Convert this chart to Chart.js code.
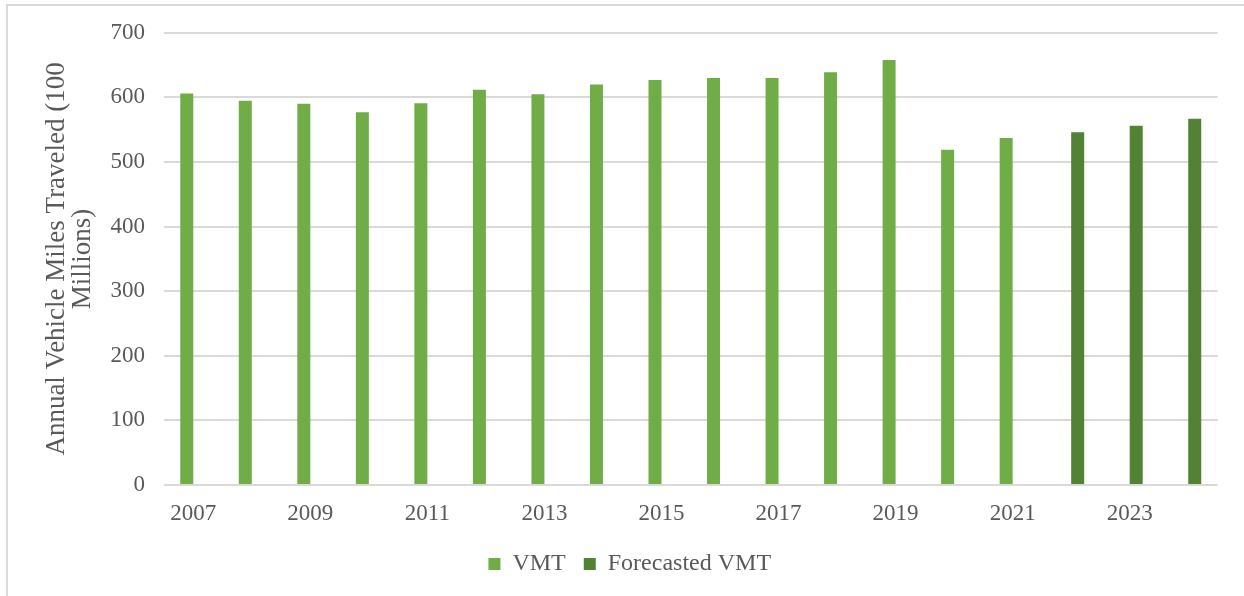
<!DOCTYPE html>
<html>
<head>
<meta charset="utf-8">
<script src="https://cdn.jsdelivr.net/npm/chart.js@4/dist/chart.umd.min.js"></script>
<style>
  html, body { margin: 0; padding: 0; background: #fff; }
  #wrap { position: relative; width: 1244px; height: 596px; overflow: hidden; }
  #frame { position: absolute; left: 6px; top: 4px; width: 1250px; height: 600px; border: 2px solid #d9d9d9; box-sizing: border-box; }
  canvas { position: absolute; left: 0; top: 0; }
</style>
</head>
<body>
<div id="wrap">
  <div id="frame"></div>
  <canvas id="vmt-chart" width="1244" height="596"></canvas>
</div>
<script>
// Years on the x axis
const years = ['2007', '2008', '2009', '2010', '2011', '2012', '2013', '2014', '2015',
    '2016', '2017', '2018', '2019', '2020', '2021', '2022', '2023', '2024'];

// Observed VMT (100 millions)
const vmt = [606, 595, 590, 577, 591, 612, 605, 620, 627,
    630, 630, 639, 658, 519, 537, null, null, null];

// Forecasted VMT (100 millions)
const forecastVmt = [null, null, null, null, null, null, null, null, null,
    null, null, null, null, null, null, 546, 556, 567];

// Y axis ticks
const yTicks = [0, 100, 200, 300, 400, 500, 600, 700];

const textColor = '#595959';
const serif = "'Liberation Serif', 'Times New Roman', serif";

// nudge the legend a bit to the right, like the original
const legendShift = {
    id: 'legendShift',
    afterLayout(chart) {
        if (chart.legend) {
            chart.legend.left += 21;
            chart.legend.right += 21;
        }
    }
};

new Chart(document.getElementById('vmt-chart'), {
    type: 'bar',
    data: {
        labels: years,
        datasets: [{
            label: 'VMT',
            data: vmt,
            backgroundColor: '#70ad47',
            categoryPercentage: 0.444,
            barPercentage: 1
        }, {
            label: 'Forecasted VMT',
            data: forecastVmt,
            backgroundColor: '#548235',
            categoryPercentage: 0.444,
            barPercentage: 1
        }]
    },
    options: {
        responsive: false,
        animation: false,
        layout: {
            padding: { top: 25, right: 26.5, left: 0, bottom: 10 }
        },
        scales: {
            x: {
                grid: { display: false, drawTicks: false },
                border: { display: false },
                ticks: {
                    color: textColor,
                    font: { family: serif, size: 23 },
                    maxRotation: 0,
                    autoSkip: false,
                    padding: 15,
                    callback: function(value, index) {
                        return index % 2 === 0 ? years[index] : '';
                    }
                },
                afterFit: function(scale) { scale.height = 49; }
            },
            y: {
                min: 0,
                max: 700,
                afterBuildTicks: function(scale) {
                    scale.ticks = yTicks.map(v => ({ value: v }));
                },
                grid: { color: '#d9d9d9', lineWidth: 2, drawTicks: false },
                border: { display: false },
                ticks: {
                    color: textColor,
                    font: { family: serif, size: 23 },
                    padding: 19
                },
                title: {
                    display: true,
                    text: ['Annual Vehicle Miles Traveled (100', 'Millions)'],
                    color: textColor,
                    font: { family: serif, size: 27, lineHeight: 0.97 },
                    padding: { top: 44, bottom: 0 }
                },
                afterFit: function(scale) { scale.width = 164; }
            }
        },
        plugins: {
            legend: {
                position: 'bottom',
                labels: {
                    color: textColor,
                    font: { family: serif, size: 24 },
                    boxWidth: 12,
                    boxHeight: 12,
                    padding: 18
                }
            },
            tooltip: { enabled: false }
        }
    },
    plugins: [legendShift]
});
</script>
</body>
</html>
